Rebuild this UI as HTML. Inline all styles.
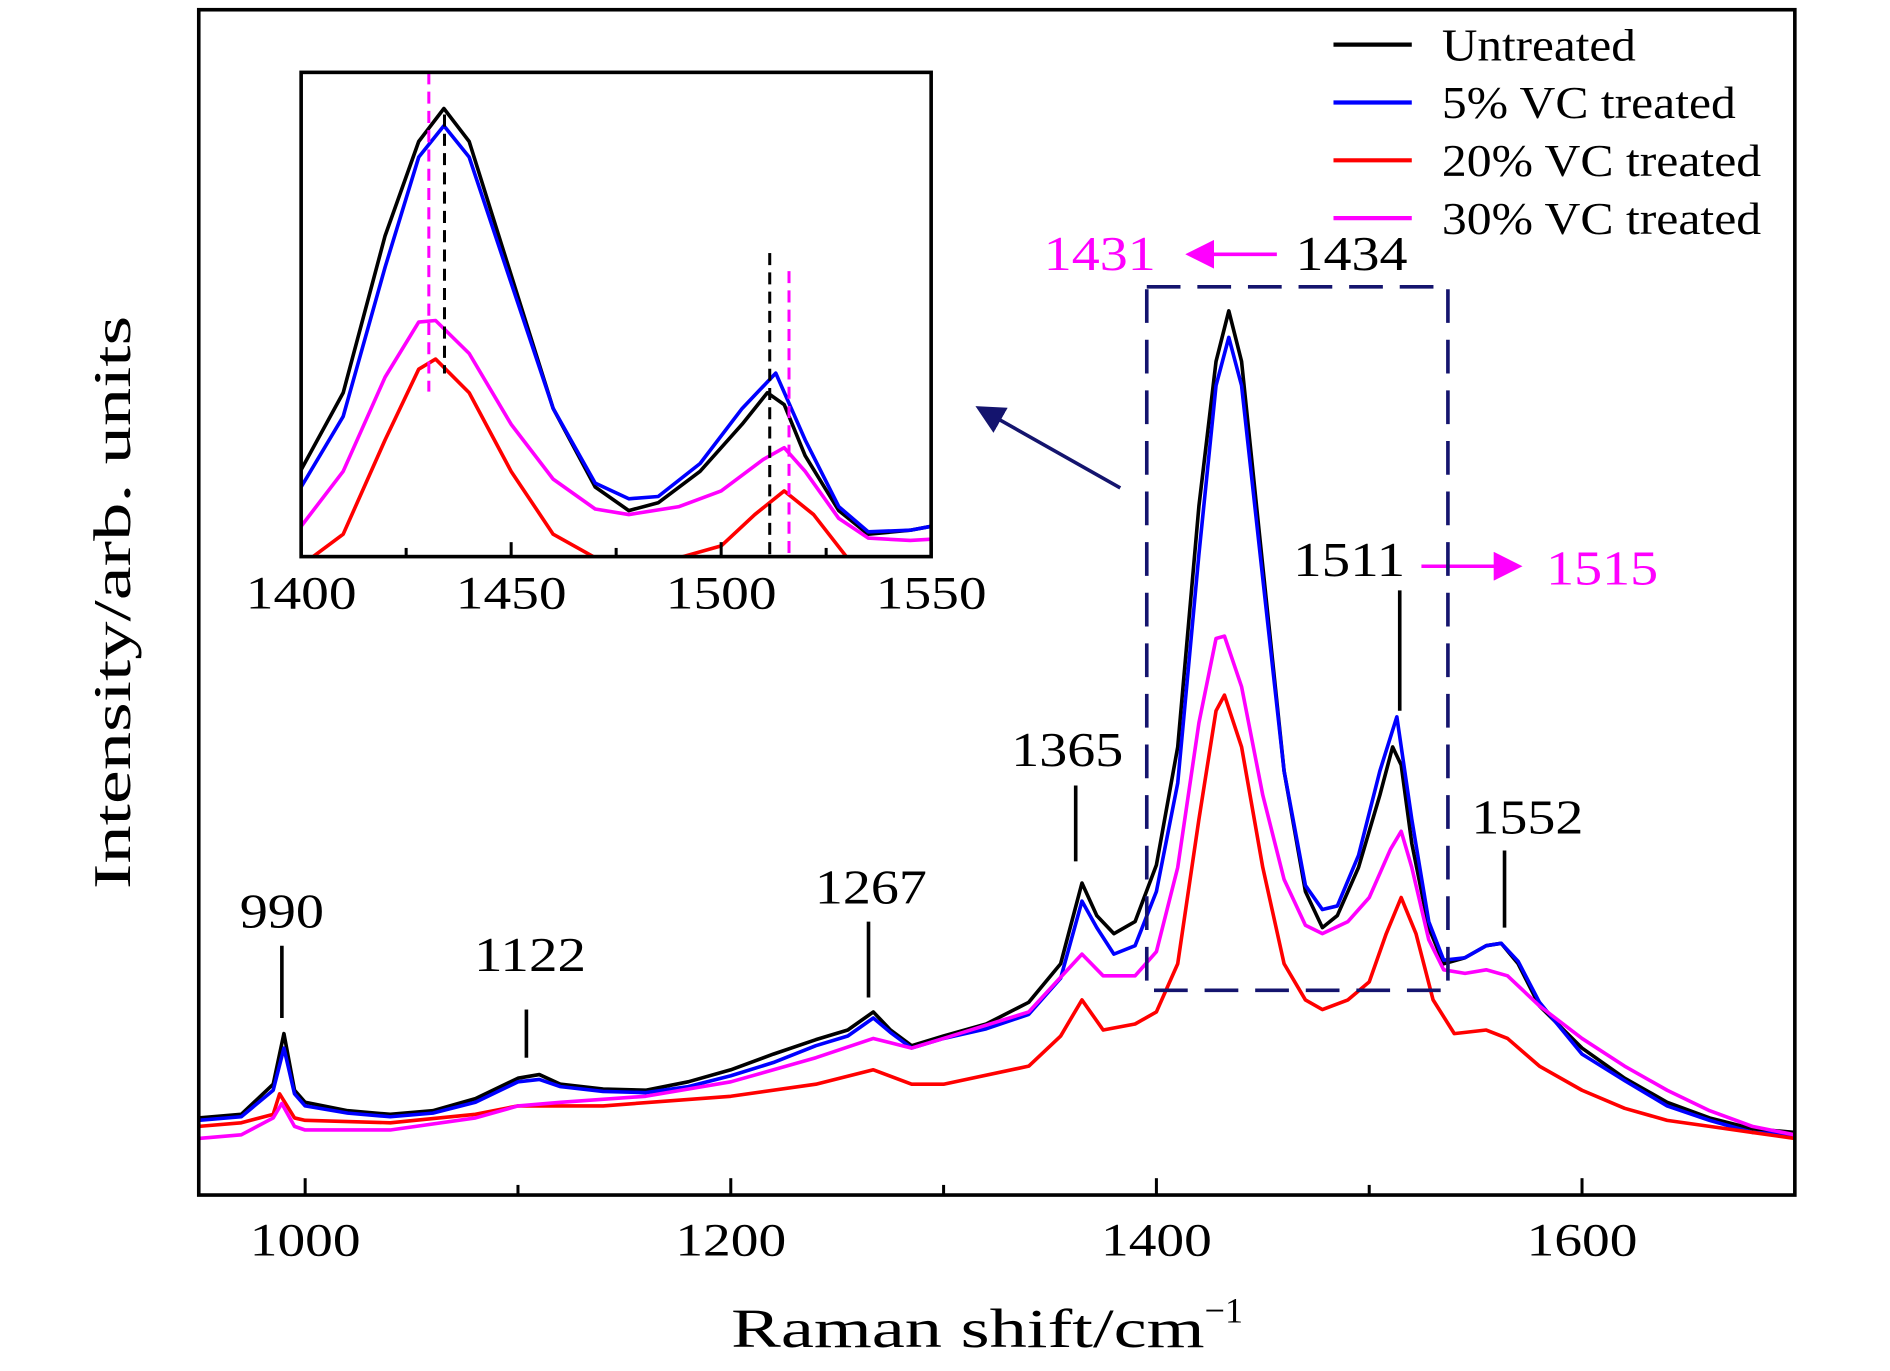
<!DOCTYPE html>
<html><head><meta charset="utf-8"><style>
html,body{margin:0;padding:0;background:#fff}
svg{display:block}
text{font-family:"Liberation Serif",serif}
</style></head><body>
<svg id="chart" width="1890" height="1371" viewBox="0 0 1569 1138" xmlns="http://www.w3.org/2000/svg">
<defs>
<clipPath id="insetClip"><rect x="250" y="60" width="523" height="402"/></clipPath>
<clipPath id="mainClip"><rect x="165" y="8" width="1325" height="984"/></clipPath>
<marker id="ahM" markerWidth="8" markerHeight="8" refX="6" refY="4" orient="auto"><path d="M0,0 L8,4 L0,8 z" fill="#ff00ff"/></marker>
<marker id="ahN" markerWidth="8" markerHeight="8" refX="6" refY="4" orient="auto"><path d="M0,0 L8,4 L0,8 z" fill="#14146e"/></marker>
</defs>
<g id="main-series" clip-path="url(#mainClip)"></g>
<rect x="165" y="8" width="1325" height="984" fill="none" stroke="#000" stroke-width="3"/>
<g id="main-ticks"></g>
<text x="607" y="1118" font-size="46"><tspan textLength="393" lengthAdjust="spacingAndGlyphs">Raman shift/cm</tspan><tspan font-size="30" dy="-20">−1</tspan></text>
<text transform="translate(108,500) rotate(-90)" font-size="44" text-anchor="middle" textLength="476" lengthAdjust="spacingAndGlyphs">Intensity/arb. units</text>

<rect x="250" y="60" width="523" height="402" fill="#fff"/>
<g id="inset-series" clip-path="url(#insetClip)"></g>
<g stroke-width="2.5" stroke-dasharray="10,6">
<line x1="356" y1="60" x2="356" y2="325" stroke="#ff00ff"/>
<line x1="369" y1="95" x2="369" y2="310" stroke="#000"/>
<line x1="639" y1="210" x2="639" y2="462" stroke="#000"/>
<line x1="655" y1="225" x2="655" y2="462" stroke="#ff00ff"/>
</g>
<rect x="250" y="60" width="523" height="402" fill="none" stroke="#000" stroke-width="3"/>
<g id="inset-ticks"></g>

<g font-size="40" stroke-width="3" lengthAdjust="spacingAndGlyphs">
<text x="234" y="770" text-anchor="middle" textLength="70" lengthAdjust="spacingAndGlyphs">990</text><line x1="234" y1="785" x2="234" y2="845" stroke="#000"/>
<text x="440" y="806" text-anchor="middle" textLength="93" lengthAdjust="spacingAndGlyphs">1122</text><line x1="437" y1="838" x2="437" y2="878" stroke="#000"/>
<text x="723" y="750" text-anchor="middle" textLength="93" lengthAdjust="spacingAndGlyphs">1267</text><line x1="721" y1="765" x2="721" y2="828" stroke="#000"/>
<text x="886" y="636" text-anchor="middle" textLength="93" lengthAdjust="spacingAndGlyphs">1365</text><line x1="893" y1="652" x2="893" y2="715" stroke="#000"/>
<text x="1120" y="478" text-anchor="middle" textLength="93" lengthAdjust="spacingAndGlyphs">1511</text><line x1="1162" y1="490" x2="1162" y2="590" stroke="#000"/>
<text x="1268" y="692" text-anchor="middle" textLength="93" lengthAdjust="spacingAndGlyphs">1552</text><line x1="1249" y1="706" x2="1249" y2="770" stroke="#000"/>
<text x="1122" y="224" text-anchor="middle" textLength="93" lengthAdjust="spacingAndGlyphs">1434</text>
<text x="913" y="224" text-anchor="middle" fill="#ff00ff" textLength="93" lengthAdjust="spacingAndGlyphs">1431</text>
<line x1="1060" y1="211" x2="990" y2="211" stroke="#ff00ff" marker-end="url(#ahM)"/>
<text x="1330" y="485" text-anchor="middle" fill="#ff00ff" textLength="93" lengthAdjust="spacingAndGlyphs">1515</text>
<line x1="1180" y1="470" x2="1258" y2="470" stroke="#ff00ff" marker-end="url(#ahM)"/>
</g>
<rect x="952" y="238" width="250" height="584" fill="none" stroke="#14146e" stroke-width="3" stroke-dasharray="28,14"/>
<line x1="930" y1="405" x2="815" y2="340" stroke="#14146e" stroke-width="3" marker-end="url(#ahN)"/>

<g font-size="38" stroke-width="3.5">
<g><line x1="1107" y1="37" x2="1172" y2="37" stroke="#000"/><text x="1197" y="50" textLength="161" lengthAdjust="spacingAndGlyphs">Untreated</text></g>
<g><line x1="1107" y1="85" x2="1172" y2="85" stroke="#0000ff"/><text x="1197" y="98" textLength="244" lengthAdjust="spacingAndGlyphs">5% VC treated</text></g>
<g><line x1="1107" y1="133" x2="1172" y2="133" stroke="#ff0000"/><text x="1197" y="146" textLength="265" lengthAdjust="spacingAndGlyphs">20% VC treated</text></g>
<g><line x1="1107" y1="181" x2="1172" y2="181" stroke="#ff00ff"/><text x="1197" y="194" textLength="265" lengthAdjust="spacingAndGlyphs">30% VC treated</text></g>
</g>
</svg>
<script>
const blackX=[950,970,985,990,995,1000,1020,1040,1060,1080,1100,1110,1120,1140,1160,1180,1200,1220,1240,1255,1267,1275,1285,1300,1320,1340,1355,1365,1372,1380,1390,1400,1410,1420,1428,1434,1440,1450,1460,1470,1478,1485,1495,1505,1511,1515,1520,1528,1535,1545,1555,1562,1570,1580,1600,1620,1640,1660,1680,1700];
const blackY=[64,67,92,134,87,77,70,67,70,80,97,100,92,88,87,94,104,117,129,137,152,137,124,132,142,160,192,259,232,217,227,274,372,572,692,734,692,522,352,252,222,232,272,332,372,357,292,222,192,197,207,209,192,157,122,97,77,64,55,52];
const blueX=[950,970,985,990,995,1000,1020,1040,1060,1080,1100,1110,1120,1140,1160,1180,1200,1220,1240,1255,1267,1275,1285,1300,1320,1340,1355,1365,1372,1380,1390,1400,1410,1420,1428,1434,1440,1450,1460,1470,1478,1485,1495,1505,1513,1520,1528,1535,1545,1555,1562,1570,1580,1600,1620,1640,1660,1680,1700];
const blueY=[62,65,87,122,84,74,68,65,68,77,94,96,90,86,85,90,99,110,124,132,147,135,122,130,138,150,180,244,222,200,207,252,342,532,672,712,672,512,352,257,237,240,282,352,397,312,227,195,197,207,209,194,160,117,95,74,62,52,50];
const redX=[950,970,985,988,995,1000,1040,1080,1100,1140,1200,1240,1267,1285,1300,1340,1355,1365,1375,1390,1400,1410,1420,1428,1432,1440,1450,1460,1470,1478,1490,1500,1508,1515,1522,1530,1540,1555,1565,1580,1600,1620,1640,1660,1680,1700];
const redY=[57,60,67,84,64,62,60,67,74,74,82,92,104,92,92,107,132,162,137,142,152,192,312,402,415,372,272,192,162,154,162,177,217,247,217,162,134,137,130,107,87,72,62,57,52,47];
const magentaX=[950,970,985,989,995,1000,1040,1080,1100,1120,1160,1200,1240,1267,1285,1300,1340,1365,1375,1390,1400,1410,1420,1428,1432,1440,1450,1460,1470,1478,1490,1500,1510,1515,1520,1528,1535,1545,1555,1565,1580,1600,1620,1640,1660,1680,1700];
const magentaY=[47,50,64,76,57,54,54,64,74,77,82,94,114,130,122,130,152,200,182,182,202,272,392,462,464,422,332,262,224,217,227,247,287,302,272,212,187,184,187,182,157,130,107,87,70,57,50];
const mainTicks=[1000,1200,1400,1600];
const mainMinor=[1100,1300,1500];
const insetTicks=[1400,1450,1500,1550];
const insetMinor=[1425,1475,1525];

const NS="http://www.w3.org/2000/svg";
function xMain(v){return 165+(v-950)/(1700-950)*1325;}
function yMain(v){return 992-v/984*984;}
function xIn(v){return 250+(v-1400)/150*523;}
function yIn(v){return 462-(v-163.4)/(780-163.4)*402;}
const series=[["untreated",blackX,blackY,"#000"],["vc5",blueX,blueY,"#0000ff"],["vc20",redX,redY,"#ff0000"],["vc30",magentaX,magentaY,"#ff00ff"]];
function draw(g,fx,fy,suffix){
  series.forEach(s=>{
    const p=document.createElementNS(NS,"path");
    let d="";
    s[1].forEach((x,i)=>{d+=(i?"L":"M")+fx(x).toFixed(1)+","+fy(s[2][i]).toFixed(1);});
    p.setAttribute("d",d);
    p.setAttribute("fill","none");p.setAttribute("stroke",s[3]);p.setAttribute("stroke-width","3");p.setAttribute("stroke-linejoin","round");
    
    
    p.setAttribute("id",s[0]+suffix);
    g.appendChild(p);
  });
}
draw(document.getElementById("main-series"),xMain,yMain,"-main");
draw(document.getElementById("inset-series"),xIn,yIn,"-inset");
function ticks(g,maj,min,fx,yb,len,fs,ly){
  maj.forEach(t=>{
    const l=document.createElementNS(NS,"line");
    l.setAttribute("x1",fx(t));l.setAttribute("x2",fx(t));l.setAttribute("y1",yb);l.setAttribute("y2",yb-len);
    l.setAttribute("stroke","#000");l.setAttribute("stroke-width","2.5");
    
    
    g.appendChild(l);
    const tx=document.createElementNS(NS,"text");
    tx.setAttribute("x",fx(t));tx.setAttribute("y",ly);tx.setAttribute("text-anchor","middle");tx.setAttribute("font-size",fs);
    tx.setAttribute("textLength","92");tx.setAttribute("lengthAdjust","spacingAndGlyphs");
    tx.textContent=t;
    
    
    g.appendChild(tx);
  });
  min.forEach(t=>{
    const l=document.createElementNS(NS,"line");
    l.setAttribute("x1",fx(t));l.setAttribute("x2",fx(t));l.setAttribute("y1",yb);l.setAttribute("y2",yb-len*0.6);
    l.setAttribute("stroke","#000");l.setAttribute("stroke-width","2.5");
    
    
    g.appendChild(l);
  });
}
ticks(document.getElementById("main-ticks"),mainTicks,mainMinor,xMain,992,14,39,1042);
ticks(document.getElementById("inset-ticks"),insetTicks,insetMinor,xIn,462,12,39,505);
</script>
</body></html>
